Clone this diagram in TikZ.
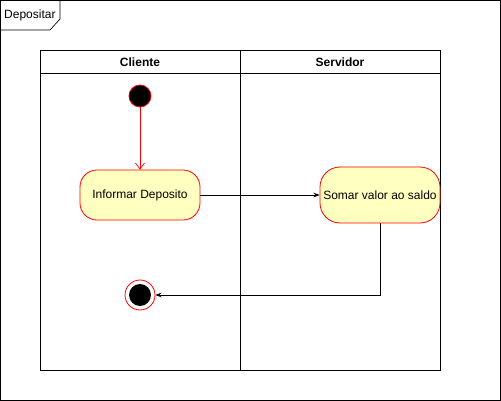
\documentclass[tikz,border=0pt]{standalone}
\usepackage{fontspec}
\setmainfont{Liberation Sans}
\usepackage{xcolor}
\usetikzlibrary{positioning, arrows, arrows.meta, calc}
\definecolor{actfill}{HTML}{FFFFC0}

\begin{document}
\begin{tikzpicture}[x=1pt, y=-1pt, >=Stealth,
    font=\fontsize{12}{14}\selectfont,
    action/.style={draw=red, fill=actfill, rounded corners=17pt, line width=0.8pt,
      minimum width=120pt, minimum height=50pt, inner sep=0pt},
    lane title/.style={font=\fontsize{12}{14}\selectfont\bfseries},
    flow/.style={draw, ->, line width=0.7pt}]
  \useasboundingbox (0,0) rectangle (501,401);

  % frame
  \draw[line width=0.7pt] (0.5,0.5) rectangle (500,400);
  \draw[line width=0.7pt] (0.5,30) -- (50,30) -- (60,19) -- (60,0.5);
  \node[anchor=west, inner sep=0pt] (frame) at (4,15) {Depositar};

  % swimlanes
  \draw[line width=0.7pt] (40,50) rectangle (440,370);
  \draw[line width=0.7pt] (40,73) -- (440,73);
  \draw[line width=0.7pt] (240,50) -- (240,370);
  \node[lane title] (cliente) at (140,62) {Cliente};
  \node[lane title] (servidor) at (340,62) {Servidor};

  % nodes
  \node[circle, draw=red, fill=black, minimum size=22pt, inner sep=0pt, line width=0.8pt] (start) at (140,96) {};
  \node[action] (informar) at (140,195) {Informar Deposito};
  \node[action, minimum height=56pt, rounded corners=20pt] (somar) at (380,195) {Somar valor ao saldo};
  \node[circle, draw=red, fill=white, minimum size=30pt, inner sep=0pt, line width=0.8pt] (fim) at (140,295) {};
  \node[circle, fill=black, minimum size=22pt, inner sep=0pt] (fimdot) at (fim) {};

  % connectors
  \draw[red, line width=0.7pt, -{Straight Barb[length=6pt, width=9pt]}] (start) -- (informar);
  \draw[flow] (informar) -- (somar);
  \draw[flow] (somar.south) |- (fim.east);
\end{tikzpicture}
\end{document}
